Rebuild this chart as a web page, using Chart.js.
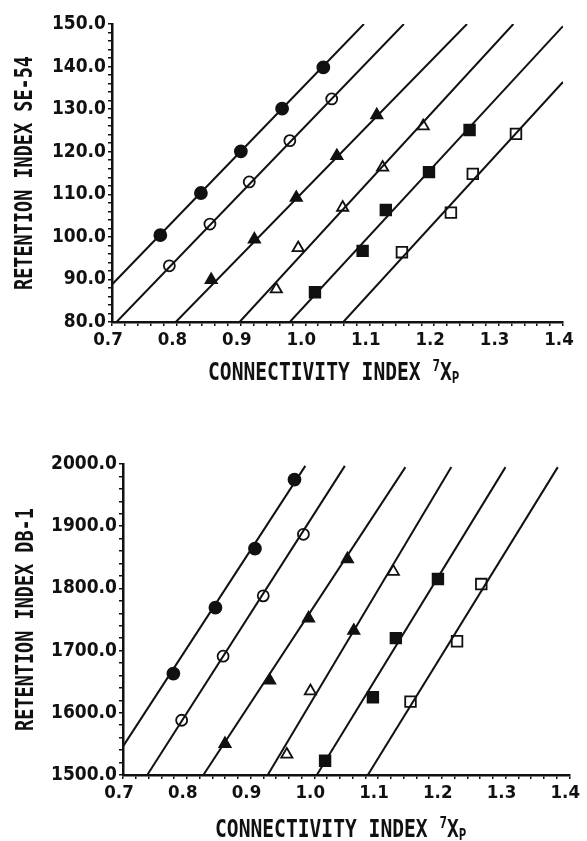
<!DOCTYPE html>
<html>
<head>
<meta charset="utf-8">
<script src="https://cdn.jsdelivr.net/npm/chart.js@4.4.0/dist/chart.umd.min.js"></script>
<style>
body { margin: 0; background: #fff; }
#wrap { position: relative; width: 587px; height: 841px; }
canvas { position: absolute; left: 0; }
</style>
</head>
<body>
<div id="wrap">
  <canvas id="seChart" width="587" height="420" style="top:0"></canvas>
  <canvas id="dbChart" width="587" height="421" style="top:420px"></canvas>
</div>
<script>
// SE-54 panel (top)
const seFilledCircleX = [0.775, 0.838, 0.900, 0.964, 1.028];
const seFilledCircleY = [100.4, 110.3, 120.1, 130.1, 139.8];
const seOpenCircleX = [0.789, 0.852, 0.913, 0.976, 1.041];
const seOpenCircleY = [93.2, 103.0, 112.9, 122.6, 132.4];
const seFilledTriX = [0.854, 0.921, 0.986, 1.049, 1.111];
const seFilledTriY = [89.9, 99.4, 109.2, 119.0, 128.6];
const seOpenTriX = [0.955, 0.989, 1.058, 1.120, 1.183];
const seOpenTriY = [87.7, 97.4, 106.9, 116.3, 126.0];
const seFilledSqX = [1.015, 1.089, 1.125, 1.192, 1.255];
const seFilledSqY = [87.0, 96.7, 106.3, 115.2, 125.1];
const seOpenSqX = [1.150, 1.226, 1.260, 1.327];
const seOpenSqY = [96.4, 105.7, 114.8, 124.2];
const seLineX = [[0.700, 1.091], [0.707, 1.153], [0.799, 1.251], [0.898, 1.323], [0.976, 1.400], [1.059, 1.400]];
const seLineY = [[88.8, 150], [80, 150], [80, 150], [80, 150], [80, 149.5], [80, 136.4]];

// DB-1 panel (bottom)
const dbFilledCircleX = [0.779, 0.845, 0.907, 0.969];
const dbFilledCircleY = [1663, 1769, 1864, 1975];
const dbOpenCircleX = [0.792, 0.857, 0.920, 0.983];
const dbOpenCircleY = [1588, 1691, 1788, 1887];
const dbFilledTriX = [0.860, 0.930, 0.991, 1.052];
const dbFilledTriY = [1550, 1652, 1752, 1847];
const dbOpenTriX = [0.957, 0.994, 1.062, 1.124];
const dbOpenTriY = [1533, 1635, 1732, 1827];
const dbFilledSqX = [1.017, 1.092, 1.128, 1.194];
const dbFilledSqY = [1523, 1625, 1720, 1815];
const dbOpenSqX = [1.151, 1.224, 1.262];
const dbOpenSqY = [1618, 1715, 1807];
const dbLineX = [[0.700, 0.986], [0.738, 1.048], [0.826, 1.143], [0.927, 1.215], [1.004, 1.300], [1.084, 1.382]];
const dbLineY = [[1546, 1997], [1500, 1997], [1500, 1995], [1500, 1995], [1500, 1995], [1500, 1995]];

const xTicks = [0.7, 0.8, 0.9, 1.0, 1.1, 1.2, 1.3, 1.4];
const seYTicks = [80, 90, 100, 110, 120, 130, 140, 150];
const dbYTicks = [1500, 1600, 1700, 1800, 1900, 2000];

const INK = '#111';
const NONE = 'rgba(0,0,0,0)';

function pts(xs, ys) {
    return xs.map((x, i) => ({ x: x, y: ys[i] }));
}

function markers(xs, ys, style, filled, radius) {
    return {
        type: 'scatter',
        data: pts(xs, ys),
        pointStyle: style,
        pointRadius: radius,
        pointBackgroundColor: filled,
        pointBorderColor: INK,
        pointBorderWidth: 1.8,
        showLine: false
    };
}

function lines(lx, ly) {
    return lx.map((xs, i) => ({
        type: 'line',
        data: pts(xs, ly[i]),
        borderColor: INK,
        borderWidth: 2,
        pointRadius: 0,
        showLine: true,
        fill: false
    }));
}

// axis titles drawn by hand so the 7 and P can sit up and down
const axisTitles = {
    id: 'axisTitles',
    afterDraw(chart, args, opts) {
        const ctx = chart.ctx;
        const area = chart.chartArea;
        ctx.save();
        ctx.fillStyle = INK;
        ctx.font = 'bold 25px "DejaVu Sans Mono"';
        ctx.textBaseline = 'middle';
        ctx.textAlign = 'center';
        ctx.save();
        ctx.translate(opts.yTitleX, (area.top + area.bottom) / 2);
        ctx.rotate(-Math.PI / 2);
        ctx.scale(0.74, 1);
        ctx.fillText(opts.yText, 0, 0);
        ctx.restore();

        ctx.textAlign = 'left';
        ctx.textBaseline = 'alphabetic';
        ctx.translate(opts.xTitleX, opts.xTitleBase);
        ctx.scale(0.785, 1);
        const main = 'CONNECTIVITY INDEX ';
        ctx.fillText(main, 0, 0);
        let w = ctx.measureText(main).width;
        ctx.font = 'bold 16px "DejaVu Sans Mono"';
        ctx.fillText('7', w, -9);
        w += ctx.measureText('7').width;
        ctx.font = 'bold 25px "DejaVu Sans Mono"';
        ctx.fillText('X', w, 0);
        w += ctx.measureText('X').width;
        ctx.font = 'bold 16px "DejaVu Sans Mono"';
        ctx.fillText('P', w, 3);
        ctx.restore();
    }
};

function makeOptions(cfg) {
    return {
        responsive: false,
        animation: false,
        devicePixelRatio: 1,
        layout: { padding: cfg.padding },
        plugins: {
            legend: { display: false },
            tooltip: { enabled: false },
            axisTitles: cfg.titles
        },
        scales: {
            x: {
                type: 'linear',
                min: 0.7,
                max: 1.4,
                afterFit: s => { s.height = cfg.xHeight; },
                border: { display: true, color: INK, width: 2.5 },
                grid: { drawOnChartArea: false, drawTicks: true, tickLength: 4, color: INK, lineWidth: 1.5 },
                ticks: {
                    stepSize: 0.02,
                    autoSkip: false,
                    maxRotation: 0,
                    padding: 3,
                    labelOffset: -4,
                    color: INK,
                    font: { family: '"DejaVu Sans Condensed", "DejaVu Sans"', weight: 'bold', size: 18.5 },
                    callback: v => {
                        const k = Math.round(v * 100) / 100;
                        return xTicks.some(t => Math.abs(t - k) < 1e-6) ? k.toFixed(1) : '';
                    }
                }
            },
            y: {
                type: 'linear',
                min: cfg.yMin,
                max: cfg.yMax,
                afterFit: s => { s.width = cfg.yWidth; },
                border: { display: true, color: INK, width: 2.5 },
                grid: { drawOnChartArea: false, drawTicks: true, tickLength: 4, color: INK, lineWidth: 1.5 },
                ticks: {
                    stepSize: cfg.yMinor,
                    autoSkip: false,
                    padding: 2,
                    color: INK,
                    font: { family: '"DejaVu Sans Condensed", "DejaVu Sans"', weight: 'bold', size: 19 },
                    callback: v => cfg.yTicks.includes(Math.round(v)) && Math.abs(v - Math.round(v)) < 1e-6 ? v.toFixed(1) : ''
                }
            }
        }
    };
}

const seChart = new Chart(document.getElementById('seChart'), {
    type: 'scatter',
    data: {
        datasets: [
            markers(seFilledCircleX, seFilledCircleY, 'circle', INK, 6),
            markers(seOpenCircleX, seOpenCircleY, 'circle', NONE, 5.5),
            markers(seFilledTriX, seFilledTriY, 'triangle', INK, 6.5),
            markers(seOpenTriX, seOpenTriY, 'triangle', NONE, 6.5),
            markers(seFilledSqX, seFilledSqY, 'rect', INK, 7.5),
            markers(seOpenSqX, seOpenSqY, 'rect', NONE, 7.5)
        ].concat(lines(seLineX, seLineY))
    },
    options: makeOptions({
        padding: { left: 0, right: 24, top: 24, bottom: 0 },
        xHeight: 98,
        yWidth: 112,
        yMin: 80,
        yMax: 150,
        yMinor: 2,
        yTicks: seYTicks,
        titles: { yText: 'RETENTION INDEX SE-54', yTitleX: 25, xTitleX: 208, xTitleBase: 380 }
    }),
    plugins: [axisTitles]
});

// the odd filled triangle on the open-triangle line is kept as printed
const dbOpenTriFill = [NONE, NONE, INK, NONE];

const dbChart = new Chart(document.getElementById('dbChart'), {
    type: 'scatter',
    data: {
        datasets: [
            markers(dbFilledCircleX, dbFilledCircleY, 'circle', INK, 6),
            markers(dbOpenCircleX, dbOpenCircleY, 'circle', NONE, 5.5),
            markers(dbFilledTriX, dbFilledTriY, 'triangle', INK, 6.5),
            markers(dbOpenTriX, dbOpenTriY, 'triangle', dbOpenTriFill, 6.5),
            markers(dbFilledSqX, dbFilledSqY, 'rect', INK, 7.5),
            markers(dbOpenSqX, dbOpenSqY, 'rect', NONE, 7.5)
        ].concat(lines(dbLineX, dbLineY))
    },
    options: makeOptions({
        padding: { left: 0, right: 10, top: 44, bottom: 0 },
        xHeight: 66,
        yWidth: 123,
        yMin: 1500,
        yMax: 2000,
        yMinor: 20,
        yTicks: dbYTicks,
        titles: { yText: 'RETENTION INDEX DB-1', yTitleX: 26, xTitleX: 215, xTitleBase: 417 }
    }),
    plugins: [axisTitles]
});
</script>
</body>
</html>
